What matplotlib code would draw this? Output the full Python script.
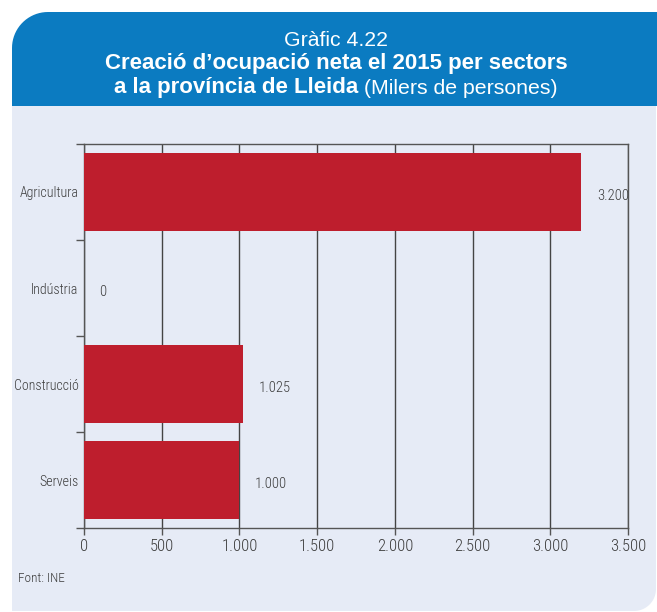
import numpy as np
import matplotlib
matplotlib.use("Agg")
import matplotlib.pyplot as plt
from matplotlib.path import Path
from matplotlib.patches import PathPatch

categories = ["Agricultura", "Indústria", "Construcció", "Serveis"]
values = [3200, 0, 1025, 1000]
value_labels = ["3.200", "0", "1.025", "1.000"]
xticks = [0, 500, 1000, 1500, 2000, 2500, 3000, 3500]
xtick_labels = ["0", "500", "1.000", "1.500", "2.000", "2.500", "3.000", "3.500"]

NARROW = ["Roboto Condensed", "Archivo Narrow", "PT Sans Narrow", "Liberation Sans", "DejaVu Sans"]
REG = ["Liberation Sans", "DejaVu Sans"]
TXT = "#3c3c3c"

W, H = 657, 612
fig = plt.figure(figsize=(W / 100, H / 100), dpi=100)
fig.patch.set_facecolor("white")

bg = fig.add_axes([0, 0, 1, 1], zorder=-5)
bg.set_xlim(0, W)
bg.set_ylim(H, 0)
bg.axis("off")

def rounded_rect(x0, y0, x1, y1, r_tl=0, r_br=0):
    pts = []
    if r_tl > 0:
        for a in np.linspace(np.pi, 1.5 * np.pi, 20):
            pts.append((x0 + r_tl + r_tl * np.cos(a), y0 + r_tl + r_tl * np.sin(a)))
    else:
        pts.append((x0, y0))
    pts.append((x1, y0))
    if r_br > 0:
        for a in np.linspace(0, 0.5 * np.pi, 20):
            pts.append((x1 - r_br + r_br * np.cos(a), y1 - r_br + r_br * np.sin(a)))
    else:
        pts.append((x1, y1))
    pts.append((x0, y1))
    pts.append(pts[0])
    return Path(pts)

panel_col = "#e6ebf6"
header_col = "#0b7bc1"
bg.add_patch(PathPatch(rounded_rect(12, 100, 656, 611, 0, 22), facecolor=panel_col, edgecolor="none"))
bg.add_patch(PathPatch(rounded_rect(12, 12, 660, 106, 36, 0), facecolor=header_col, edgecolor="none"))

CX = 336
bg.text(CX, 40, "Gràfic 4.22", color="white", fontsize=15.3, family=REG, ha="center", va="center")
bg.text(CX, 63, "Creació d\u2019ocupació neta el 2015 per sectors", color="white",
        fontsize=16, fontweight="bold", family=REG, ha="center", va="center")
ta = bg.text(0, 88, "a la província de Lleida", color="white", fontsize=16,
             fontweight="bold", family=REG, ha="left", va="center")
tb = bg.text(0, 88, " (Milers de persones)", color="white", fontsize=15.3, family=REG,
             ha="left", va="center")
fig.canvas.draw()
r = fig.canvas.get_renderer()
wa = ta.get_window_extent(r).width
wb = tb.get_window_extent(r).width
x0 = CX - (wa + wb) / 2
ta.set_x(x0)
tb.set_x(x0 + wa)

bg.text(18, 578, "Font: INE", color=TXT, fontsize=9.5, family=NARROW, fontweight="light",
        ha="left", va="center")

ax = fig.add_axes([84 / W, 1 - 528 / H, (628 - 84) / W, (528 - 144) / H])
ax.set_facecolor(panel_col)
ypos = np.arange(len(categories))
ax.barh(ypos, values, height=0.81, color="#be1e2d", zorder=3)
ax.set_xlim(0, 3500)
ax.set_ylim(3.5, -0.5)
ax.set_xticks(xticks)
ax.set_xticklabels(xtick_labels, family=NARROW, fontweight="light", fontsize=12, color=TXT)
ax.set_yticks(ypos)
ax.set_yticklabels(categories, family=NARROW, fontweight="light", fontsize=10, color=TXT)
ax.set_yticks(np.arange(-0.5, len(categories)), minor=True)
ax.tick_params(axis="y", which="major", length=0, pad=4)
ax.tick_params(axis="y", which="minor", length=6, width=1, color="#555555")
ax.tick_params(axis="x", which="major", length=5, width=1, color="#555555", pad=3)
ax.grid(axis="x", color="#444444", linewidth=1, zorder=1)
for s in ax.spines.values():
    s.set_color("#555555")
    s.set_linewidth(1)

for y, v, lab in zip(ypos, values, value_labels):
    ax.text(v + 100, y + 0.04, lab, family=NARROW, fontweight="light", fontsize=10.5,
            color=TXT, ha="left", va="center", zorder=4)

fig.savefig("out.png", dpi=100, facecolor="white")
